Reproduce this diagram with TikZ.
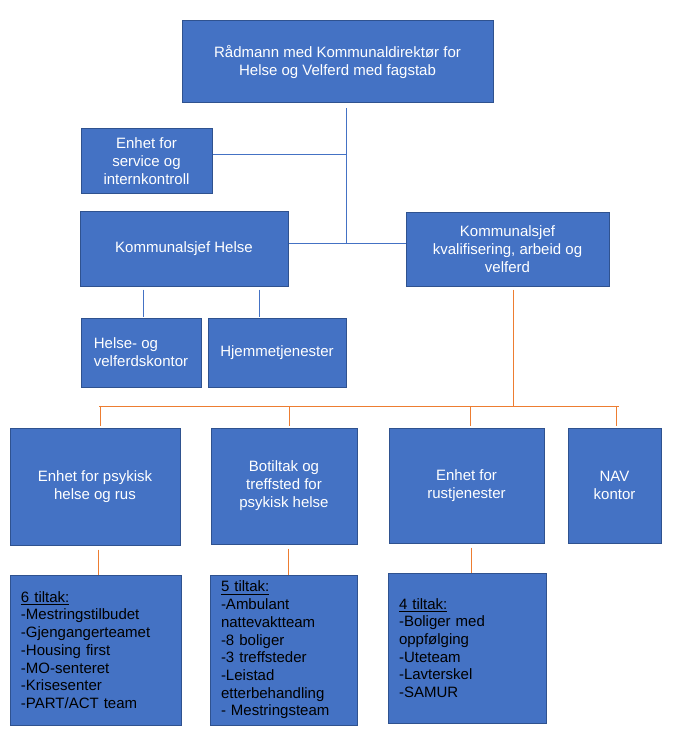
\documentclass[tikz,border=0pt]{standalone}
\usepackage{fontspec}
\setmainfont{Liberation Sans}
\usetikzlibrary{calc}
\definecolor{boxblue}{HTML}{4472C4}
\definecolor{boxedge}{HTML}{2F528F}
\definecolor{lineorange}{HTML}{ED7D31}

\begin{document}
\begin{tikzpicture}[x=0.75pt,y=0.75pt,yscale=-1,
  unit/.style={draw=boxedge, line width=0.75pt, fill=boxblue, text=white, align=center, inner sep=2pt, font=\fontsize{11.25pt}{13.5pt}\selectfont},
  tiltak/.style={unit, text=black, align=left, inner xsep=8.25pt, text width=#1, minimum height=112.5pt, font=\fontsize{11.25pt}{13.3pt}\selectfont},
  blueline/.style={draw=boxblue, line width=0.75pt},
  orangeline/.style={draw=lineorange, line width=0.75pt}]

\fill[white] (0,0) rectangle (680,738);
\useasboundingbox (0,0) rectangle (680,738);

%Top level
\node[unit, minimum width=233.25pt, minimum height=61.5pt] (radmann) at (337.5,62) {Rådmann med Kommunaldirektør for\\Helse og Velferd med fagstab};
\node[unit, minimum width=98.25pt, minimum height=48pt] (service) at (146.5,161) {Enhet for\\service og\\internkontroll};

%Kommunalsjefer
\node[unit, minimum width=156pt, minimum height=56.25pt] (helse) at (184,248.5) {Kommunalsjef Helse};
\node[unit, minimum width=152.25pt, minimum height=55.5pt] (kval) at (507.5,249) {Kommunalsjef\\kvalifisering, arbeid og\\velferd};

%Under Helse
\node[unit, align=left, minimum width=90pt, minimum height=51.75pt] (hvk) at (141,352.5) {Helse- og\\velferdskontor};
\node[unit, minimum width=103.5pt, minimum height=51.75pt] (hjem) at (277,352.5) {Hjemmetjenester};

%Enheter
\node[unit, minimum width=127.5pt, minimum height=87.75pt] (psyk) at (95,486.5) {Enhet for psykisk\\helse og rus};
\node[unit, minimum width=109.5pt, minimum height=87pt] (botiltak) at (284,486) {Botiltak og\\treffsted for\\psykisk helse};
\node[unit, minimum width=116.25pt, minimum height=86.25pt] (rust) at (466.5,485.5) {Enhet for\\rustjenester};
\node[unit, minimum width=69.75pt, minimum height=86.25pt] (nav) at (614.5,485.5) {NAV\\kontor};

%Tiltak
\node[tiltak=111.75pt] (t6) at (95.5,650) {\underline{6 tiltak:}\\-Mestringstilbudet\\-Gjengangerteamet\\-Housing first\\-MO-senteret\\-Krisesenter\\-PART/ACT team};
\node[tiltak=93.75pt] (t5) at (283.5,650) {\underline{5 tiltak:}\\-Ambulant\\nattevaktteam\\-8 boliger\\-3 treffsteder\\-Leistad\\etterbehandling\\- Mestringsteam};
\node[tiltak=102pt] (t4) at (467,648) {\underline{4 tiltak:}\\-Boliger med\\oppfølging\\-Uteteam\\-Lavterskel\\-SAMUR};

%Blue lines
\coordinate (hub) at (346,243);
\coordinate (servicejoin) at (346,155);
\draw[blueline] ($(radmann.south -| hub)+(0,5)$) -- (hub);
\draw[blueline] (service.east |- servicejoin) -- (servicejoin);
\draw[blueline] (helse.east |- hub) -- (kval.west |- hub);
\draw[blueline] ($(helse.south -| hvk.north)+(2,3)$) -- ($(hvk.north)+(2,-1)$);
\draw[blueline] ($(helse.south -| hjem.north)+(-18,3)$) -- ($(hjem.north)+(-18,-1)$);

%Orange lines
\coordinate (bus) at (513,406);
\draw[orangeline] ($(kval.south)+(5.5,3)$) -- (bus);
\draw[orangeline] ($(psyk.north |- bus)+(4,0)$) -- ($(nav.north |- bus)+(4.5,0)$);
\foreach \n/\dx in {psyk/5,botiltak/5,rust/3.5,nav/1.5}
  \draw[orangeline] ($(\n.north |- bus)+(\dx,0)$) -- ($(\n.north)+(\dx,-2)$);
\foreach \u/\t/\dx in {psyk/t6/3,botiltak/t5/4,rust/t4/4.5}
  \draw[orangeline] ($(\u.south)+(\dx,4)$) -- ($(\u.south |- \t.north)+(\dx,0)$);

\end{tikzpicture}
\end{document}
